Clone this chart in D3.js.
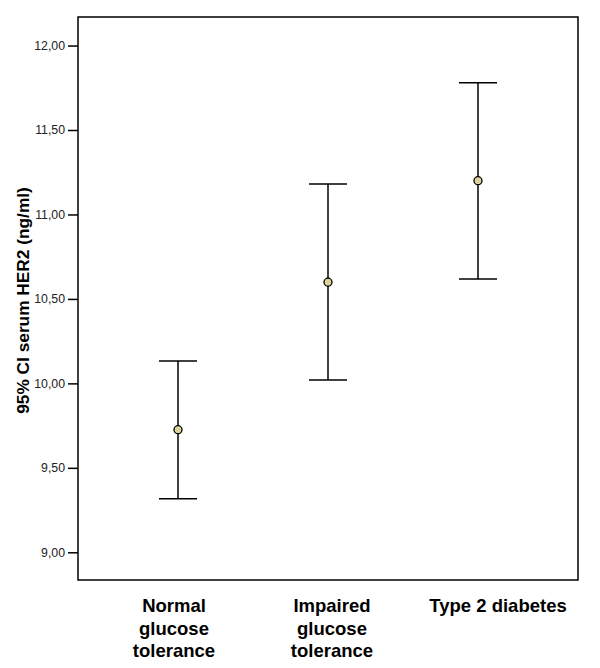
<!DOCTYPE html>
<html>
<head>
<meta charset="utf-8">
<script src="https://cdn.jsdelivr.net/npm/d3@7"></script>
<style>
  html, body { margin: 0; padding: 0; background: #fff; }
  svg { display: block; font-family: "Liberation Sans", Arial, sans-serif; }
</style>
</head>
<body>
<svg id="chart" width="600" height="668"></svg>
<script>
// Data
const categories = ["Normal glucose tolerance", "Impaired glucose tolerance", "Type 2 diabetes"];
const categoryLines = [["Normal", "glucose", "tolerance"], ["Impaired", "glucose", "tolerance"], ["Type 2 diabetes"]];
const means = [9.726, 10.599, 11.200];
const lowerCI = [9.317, 10.020, 10.618];
const upperCI = [10.133, 11.181, 11.780];
const yTicks = [9.0, 9.5, 10.0, 10.5, 11.0, 11.5, 12.0];
const yLabel = "95% CI serum HER2 (ng/ml)";

const svg = d3.select("#chart");
const frame = { left: 78, right: 578, top: 17, bottom: 580 };
const labelShift = [-4, 4, 20]; // horizontal nudge of wrapped category labels

const x = d3.scalePoint().domain(categories).range([frame.left, frame.right]).padding(2 / 3);
const y = d3.scaleLinear().domain([8.836, 12.169]).range([frame.bottom, frame.top]);

// Frame
svg.append("rect")
  .attr("x", frame.left).attr("y", frame.top)
  .attr("width", frame.right - frame.left).attr("height", frame.bottom - frame.top)
  .attr("fill", "none").attr("stroke", "#000").attr("stroke-width", 1.5);

// Y axis
const fmt = v => d3.format(".2f")(v).replace(".", ",");
const yAxis = d3.axisLeft(y).tickValues(yTicks).tickFormat(fmt).tickSize(10).tickPadding(3);
const gy = svg.append("g").attr("transform", `translate(${frame.left},0)`).call(yAxis);
gy.select(".domain").remove();
gy.selectAll(".tick line").attr("stroke", "#000").attr("stroke-width", 1.5);
gy.selectAll(".tick text").attr("font-size", 12.3).attr("fill", "#222")
  .attr("font-family", "'Liberation Sans', Arial, sans-serif");

// Y label
svg.append("text")
  .attr("transform", `translate(28.5,${(frame.top + frame.bottom) / 2 + 2}) rotate(-90)`)
  .attr("text-anchor", "middle")
  .attr("font-size", 17.3).attr("font-weight", "bold").attr("fill", "#000")
  .text(yLabel);

// X labels
categories.forEach((c, i) => {
  const cx = x(c) + labelShift[i];
  const t = svg.append("text")
    .attr("x", cx).attr("y", 612)
    .attr("text-anchor", "middle")
    .attr("font-size", 18.5).attr("font-weight", "bold").attr("fill", "#000");
  categoryLines[i].forEach((ln, j) => {
    t.append("tspan").attr("x", cx).attr("dy", j === 0 ? 0 : 22.5).text(ln);
  });
});

// Error bars
const capHalf = 19;
const g = svg.append("g");
categories.forEach((c, i) => {
  const cx = x(c);
  g.append("line").attr("x1", cx).attr("x2", cx)
    .attr("y1", y(lowerCI[i])).attr("y2", y(upperCI[i]))
    .attr("stroke", "#000").attr("stroke-width", 1.5);
  [lowerCI[i], upperCI[i]].forEach(v => {
    g.append("line").attr("x1", cx - capHalf).attr("x2", cx + capHalf)
      .attr("y1", y(v)).attr("y2", y(v))
      .attr("stroke", "#000").attr("stroke-width", 1.5);
  });
  g.append("circle").attr("cx", cx).attr("cy", y(means[i])).attr("r", 4)
    .attr("fill", "#dcd49c").attr("stroke", "#000").attr("stroke-width", 1.3);
});
</script>
</body>
</html>
